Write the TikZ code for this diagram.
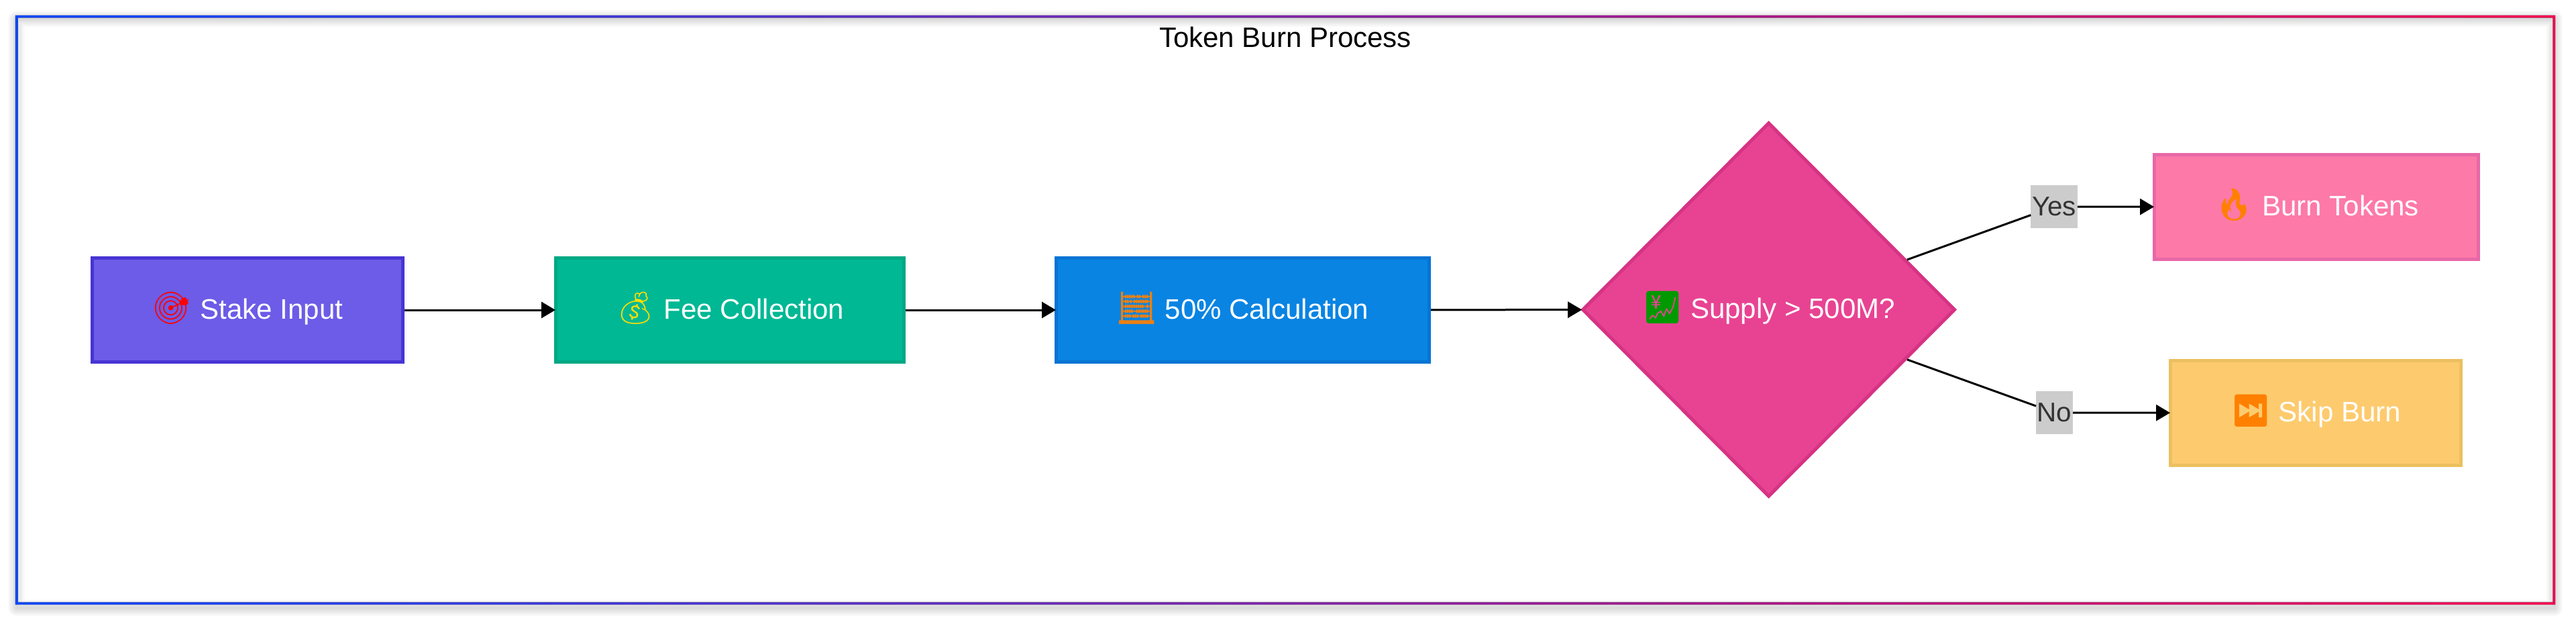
\documentclass[tikz,border=0pt]{standalone}
\usepackage{fontspec}
\setmainfont{Liberation Sans}
\newfontfamily\emojifont{Noto Emoji}
\usetikzlibrary{arrows.meta,shapes.geometric,backgrounds}
\definecolor{stakefill}{HTML}{6C5CE7}
\definecolor{stakeline}{HTML}{4834D4}
\definecolor{feefill}{HTML}{00B894}
\definecolor{feeline}{HTML}{00A884}
\definecolor{calcfill}{HTML}{0984E3}
\definecolor{calcline}{HTML}{0774D4}
\definecolor{supplyfill}{HTML}{E84393}
\definecolor{supplyline}{HTML}{D63384}
\definecolor{burnfill}{HTML}{FD79A8}
\definecolor{burnline}{HTML}{E868A8}
\definecolor{skipfill}{HTML}{FDCB6E}
\definecolor{skipline}{HTML}{ECC05F}
\definecolor{frameleft}{HTML}{0A48FF}
\definecolor{framemid}{HTML}{7A28A0}
\definecolor{frameright}{HTML}{F50050}
\tikzset{
every node/.style={font=\fontsize{11.95pt}{14pt}\selectfont},
procbox/.style={draw,line width=0.05cm,minimum height=1.555cm,inner sep=0pt,text=white,text height=0.33cm,text depth=0.07cm},
edgetag/.style={fill=black!20,text=black!80,inner sep=0pt,minimum height=0.64cm,outer sep=0pt,font=\fontsize{11.5pt}{14pt}\selectfont},
flowline/.style={line width=0.03cm,black},
flowarrow/.style={flowline,shorten >=-0.02cm,-{Triangle[length=0.21cm,width=0.24cm]}}
}
\newcommand{\emojimark}[2]{{\emojifont\fontsize{13.5pt}{14pt}\selectfont\textcolor{#1}{#2}}}
% soft shadow under a box, built up from thin layers
\newcommand{\boxshadow}[1]{
\foreach \r in {0.02,0.05,0.08,0.11,0.14}{
\draw[black,opacity=0.035,fill=black,line width=\r cm,line join=round]
([yshift=-0.05cm]#1.south west) rectangle ([yshift=-0.05cm]#1.north east);
}}
\begin{document}
\begin{tikzpicture}
\useasboundingbox (0,0) rectangle (38.4,9.26);
\fill[white] (0,0) rectangle (38.4,9.26);
% frame
\foreach \r in {0.04,0.08,0.12,0.16,0.2,0.24}{
\draw[black,opacity=0.025,line width=\r cm,line join=round] (0.245,0.2) rectangle (38.075,8.975);
}
\fill[left color=frameleft,middle color=framemid,right color=frameright,even odd rule] (0.23,0.25) rectangle (38.09,9.03) (0.265,0.285) rectangle (38.055,8.995);
\node (title) at (19.16,8.71) {Token Burn Process};

\node[procbox,fill=stakefill,draw=stakeline,minimum width=4.63cm] (stake) at (3.69,4.64) {\emojimark{red}{🎯} Stake Input};
\node[procbox,fill=feefill,draw=feeline,minimum width=5.19cm] (fee) at (10.88,4.64) {\emojimark{yellow!80!orange}{💰} Fee Collection};
\node[procbox,fill=calcfill,draw=calcline,minimum width=5.56cm] (calc) at (18.525,4.64) {\emojimark{orange!70!brown}{🧮} 50\% Calculation};
\node[diamond,aspect=1,draw=supplyline,fill=supplyfill,line width=0.05cm,minimum width=5.56cm,minimum height=5.58cm,inner sep=0pt,text=white,text height=0.33cm,text depth=0.07cm] (supply) at (26.365,4.645) {\emojimark{green!60!black}{💹} Supply > 500M?};
\node[procbox,fill=burnfill,draw=burnline,minimum width=4.83cm] (burn) at (34.53,6.175) {\emojimark{orange}{🔥} Burn Tokens};
\node[procbox,fill=skipfill,draw=skipline,minimum width=4.33cm] (skip) at (34.52,3.105) {\emojimark{orange}{⏭} Skip Burn};

\node[edgetag,minimum width=0.695cm] (yes) at (30.62,6.18) {Yes};
\node[edgetag,minimum width=0.55cm] (no) at (30.625,3.11) {No};

\draw[flowarrow] (stake) -- (fee);
\draw[flowarrow] (fee) -- (calc);
\draw[flowarrow] (calc) -- (supply);
\draw[flowline] (supply) -- (yes);
\draw[flowarrow] (yes) -- (burn);
\draw[flowline] (supply) -- (no);
\draw[flowarrow] (no) -- (skip);

\begin{scope}[on background layer]
\fill[white] (0,0) rectangle (38.4,9.26);
\boxshadow{stake}
\boxshadow{fee}
\boxshadow{calc}
\boxshadow{burn}
\boxshadow{skip}
\foreach \r in {0.02,0.05,0.08,0.11,0.14}{
\draw[black,opacity=0.035,fill=black,line width=\r cm,line join=round]
([yshift=-0.05cm]supply.north) -- ([yshift=-0.05cm]supply.east) -- ([yshift=-0.05cm]supply.south) -- ([yshift=-0.05cm]supply.west) -- cycle;
}
\end{scope}
\end{tikzpicture}
\end{document}
